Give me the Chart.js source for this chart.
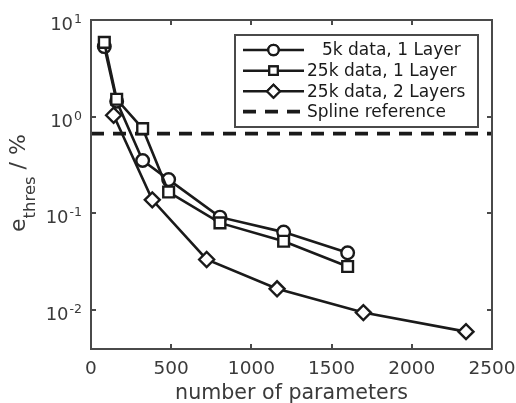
<!DOCTYPE html>
<html><head><meta charset="utf-8">
<script src="https://cdn.jsdelivr.net/npm/chart.js@4"></script>
<style>html,body{margin:0;padding:0;background:#fff}#wrap{width:516px;height:403px;position:relative}</style>
</head><body><div id="wrap"><canvas id="c"></canvas></div>
<script>
// ---- data ----
const params5k1L = [83, 160, 322, 484, 804, 1201, 1600];
const err5k1L = [5.3, 1.44, 0.35, 0.222, 0.0906, 0.0634, 0.0387];
const params25k1L = [83, 160, 322, 484, 804, 1201, 1600];
const err25k1L = [5.86, 1.51, 0.75, 0.165, 0.079, 0.051, 0.0279];
const params25k2L = [141, 382, 721, 1160, 1698, 2338];
const err25k2L = [1.03, 0.137, 0.033, 0.0164, 0.0093, 0.0059];
const splineX = [0, 2500];
const splineRef = 0.665;
const xTicks = [0, 500, 1000, 1500, 2000, 2500];
const yTickExp = [-2, -1, 0, 1];
const seriesLabels = ['5k data, 1 Layer', '25k data, 1 Layer', '25k data, 2 Layers', 'Spline reference'];
const xTitle = 'number of parameters';

const FONT = '"DejaVu Sans", sans-serif';
const LINE = '#1a1a1a';
const AXIS = '#4a4a4a';
const TEXT = '#3a3a3a';

function pts(xs, ys) { return xs.map((x, i) => ({ x: x, y: ys[i] })); }

const ds = (label, xs, ys, style, r) => ({
  label, data: pts(xs, ys), borderColor: LINE, borderWidth: 2.6,
  pointStyle: style, pointRadius: r, pointHoverRadius: r,
  pointBackgroundColor: '#fff', pointBorderColor: LINE, pointBorderWidth: 2.4,
  showLine: true, tension: 0, fill: false, clip: 8
});

const decor = {
  id: 'decor',
  afterDatasetsDraw(chart) {
    const { ctx, chartArea: a, scales } = chart;
    const xs = scales.x, ys = scales.y;
    ctx.save();
    // frame
    ctx.strokeStyle = AXIS; ctx.lineWidth = 2;
    ctx.strokeRect(a.left, a.top, a.right - a.left, a.bottom - a.top);
    const tl = 5;
    ctx.beginPath();
    xTicks.forEach(v => {
      const px = Math.round(xs.getPixelForValue(v)) ;
      ctx.moveTo(px, a.bottom); ctx.lineTo(px, a.bottom - tl);
      ctx.moveTo(px, a.top); ctx.lineTo(px, a.top + tl);
    });
    yTickExp.forEach(e => {
      const py = Math.round(ys.getPixelForValue(Math.pow(10, e)));
      ctx.moveTo(a.left, py); ctx.lineTo(a.left + tl, py);
      ctx.moveTo(a.right, py); ctx.lineTo(a.right - tl, py);
    });
    ctx.stroke();
    // x tick labels
    ctx.fillStyle = TEXT;
    ctx.font = '18.5px ' + FONT;
    ctx.textAlign = 'center'; ctx.textBaseline = 'alphabetic';
    xTicks.forEach(v => {
      ctx.fillText(String(v), xs.getPixelForValue(v), a.bottom + 25);
    });
    // y tick labels 10^e
    yTickExp.forEach(e => {
      const py = ys.getPixelForValue(Math.pow(10, e));
      const sup = e < 0 ? '-' + Math.abs(e) : String(e);
      ctx.font = '18px ' + FONT;
      const wb = ctx.measureText('10').width;
      ctx.font = '12.5px ' + FONT;
      const ws = ctx.measureText(sup).width;
      const right = a.left - 9;
      ctx.textAlign = 'left';
      ctx.font = '18px ' + FONT;
      ctx.fillText('10', right - ws - wb - 1, py + 10);
      ctx.font = '12.5px ' + FONT;
      ctx.fillText(sup, right - ws, py + 3);
    });
    // x title
    ctx.font = '20.6px ' + FONT; ctx.textAlign = 'center';
    ctx.fillText(xTitle, (a.left + a.right) / 2, 398.5);
    // y title
    ctx.save();
    ctx.translate(25, 232);
    ctx.rotate(-Math.PI / 2);
    ctx.textAlign = 'left';
    ctx.font = '22px ' + FONT;
    ctx.fillText('e', 0, 0);
    let off = ctx.measureText('e').width;
    ctx.font = '16.5px ' + FONT;
    ctx.fillText('thres', off, 10);
    off += ctx.measureText('thres').width;
    ctx.font = '22px ' + FONT;
    ctx.fillText(' / %', off, 0);
    ctx.restore();
    // legend
    const L = { l: 235, t: 35, r: 478, b: 127 };
    ctx.fillStyle = '#fff';
    ctx.fillRect(L.l, L.t, L.r - L.l, L.b - L.t);
    ctx.strokeStyle = AXIS; ctx.lineWidth = 2;
    ctx.strokeRect(L.l, L.t, L.r - L.l, L.b - L.t);
    const rows = [50, 70.7, 91.2, 111.7];
    const styles = ['circle', 'rect', 'rectRot', null];
    const textX = [322, 307, 307, 307];
    const rad = [5.2, 6, 6.5, 0];
    rows.forEach((ry, i) => {
      ctx.strokeStyle = LINE;
      if (styles[i]) {
        ctx.lineWidth = 2.4; ctx.setLineDash([]);
        ctx.beginPath(); ctx.moveTo(243, ry); ctx.lineTo(304, ry); ctx.stroke();
        ctx.fillStyle = '#fff'; ctx.lineWidth = 2.2;
        Chart.helpers.drawPoint(ctx, { pointStyle: styles[i], radius: rad[i], borderWidth: 2.2, rotation: 0 }, 273.5, ry);
        ctx.fill(); ctx.stroke();
      } else {
        ctx.lineWidth = 3.8; ctx.setLineDash([13, 9]);
        ctx.beginPath(); ctx.moveTo(243, ry); ctx.lineTo(305, ry); ctx.stroke();
        ctx.setLineDash([]);
      }
      ctx.fillStyle = '#1a1a1a';
      ctx.font = '17px ' + FONT; ctx.textAlign = 'left'; ctx.textBaseline = 'middle';
      ctx.fillText(seriesLabels[i], textX[i], ry + 1);
      ctx.textBaseline = 'alphabetic';
    });
    ctx.restore();
  }
};

new Chart(document.getElementById('c'), {
  type: 'scatter',
  data: {
    datasets: [
      {
        label: seriesLabels[3], data: pts(splineX, splineX.map(() => splineRef)),
        borderColor: LINE, borderWidth: 3.8, borderDash: [13, 9], pointRadius: 0,
        showLine: true, fill: false, clip: 0, order: 5
      },
      ds(seriesLabels[2], params25k2L, err25k2L, 'rectRot', 7.5),
      ds(seriesLabels[1], params25k1L, err25k1L, 'rect', 7.6),
      ds(seriesLabels[0], params5k1L, err5k1L, 'circle', 6.3)
    ]
  },
  options: {
    responsive: true, maintainAspectRatio: false, animation: false,
    devicePixelRatio: 1,
    layout: { padding: { left: 91, right: 24, top: 20, bottom: 54 } },
    plugins: { legend: { display: false }, tooltip: { enabled: false } },
    scales: {
      x: { type: 'linear', min: 0, max: 2500, display: false },
      y: { type: 'logarithmic', min: 0.0039, max: 10, display: false }
    }
  },
  plugins: [decor]
});
</script></body></html>
